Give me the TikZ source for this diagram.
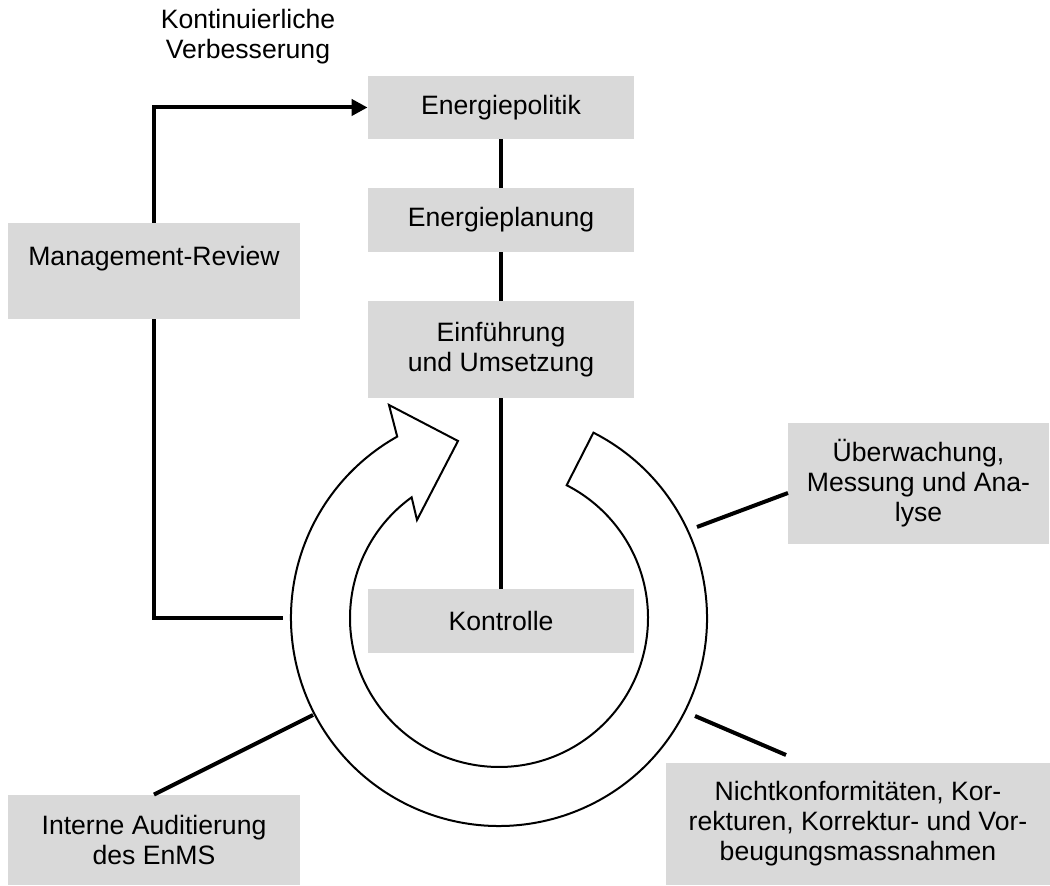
\documentclass[tikz,border=0pt]{standalone}
\usepackage{fontspec}
\setmainfont{Liberation Sans}
\usetikzlibrary{arrows.meta,calc}
\definecolor{boxgray}{RGB}{217,217,217}

\begin{document}
\begin{tikzpicture}[x=0.5pt,y=0.5pt]
\tikzstyle{every node} = [font=\fontsize{13.3}{15}\selectfont, align=center]
\tikzstyle{box} = [rectangle, fill=boxgray, inner sep=0pt]
\tikzstyle{link} = [line width=2pt]
\tikzstyle{ring} = [line width=1pt, fill=white, line join=miter]
\useasboundingbox (0,0) rectangle (1050,886);

\node[box, minimum width=133pt, minimum height=31.5pt] (politik) at (501,778.5) {Energiepolitik};
\node[box, minimum width=133pt, minimum height=32pt] (planung) at (501,666) {Energieplanung};
\node[box, minimum width=133pt, minimum height=48.5pt] (umsetzung) at (501,536.5) {Einführung\\und Umsetzung};
\node[box, minimum width=133pt, minimum height=32pt] (kontrolle) at (501,265) {Kontrolle};
\node[box, minimum width=146pt, minimum height=48pt] (review) at (154,615) {Management-Review\\~};
\node[box, minimum width=130.5pt, minimum height=60.5pt] (messung) at (918.5,402.5) {Überwachung,\\Messung und Ana-\\lyse};
\node[box, minimum width=146pt, minimum height=45pt] (audit) at (154,46) {Interne Auditierung\\des EnMS};
\node[box, minimum width=192pt, minimum height=61pt] (korrektur) at (858,62) {Nichtkonformitäten, Kor-\\rekturen, Korrektur- und Vor-\\beugungsmassnahmen};
\node (kvp) at (248,849) {Kontinuierliche\\Verbesserung};

% circular arrow
\coordinate (c) at (499,268);
\draw[ring] (c) ++(63:208) arc[start angle=63, end angle=-240.7, radius=208]
  -- (389,481) -- (458,445) -- (417,366) -- ($(c)+(125.9:149)$)
  arc[start angle=-234.1, end angle=63, radius=149] -- cycle;

\coordinate (ringW) at (283,268);
\coordinate (ringSW) at (313,171);
\coordinate (ringE) at (697,359);
\coordinate (ringSE) at (695,170);
\coordinate (messW) at (788,393);
\coordinate (korrN) at (786,131);

\draw[link] (politik) -- (planung);
\draw[link] (planung) -- (umsetzung);
\draw[link] (umsetzung) -- (kontrolle);
\draw[link, -{Triangle[length=8pt,width=8pt]}] (review.north) |- (politik.west);
\draw[link] (review.south) |- (ringW);
\draw[link] (audit.north) -- (ringSW);
\draw[link] (ringE) -- (messW);
\draw[link] (ringSE) -- (korrN);
\end{tikzpicture}
\end{document}
